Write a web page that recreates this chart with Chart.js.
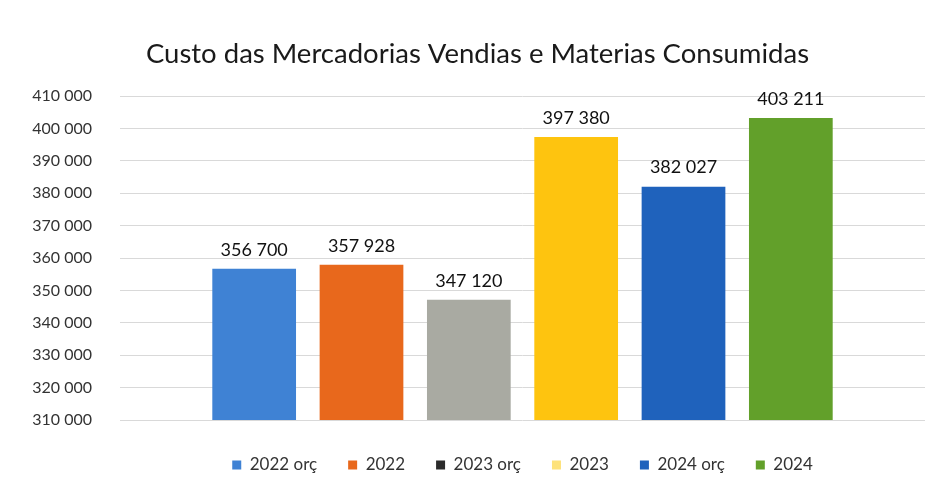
<!DOCTYPE html>
<html>
<head>
<meta charset="utf-8">
<script src="https://cdn.jsdelivr.net/npm/chart.js@4.4.1/dist/chart.umd.min.js"></script>
<style>
    html, body { margin: 0; padding: 0; background: #fff; }
    #wrap { width: 936px; height: 488px; }
</style>
</head>
<body>
<div id="wrap"><canvas id="custoChart"></canvas></div>
<script>
// Custo das mercadorias vendidas e materias consumidas
const series = ['2022 orç', '2022', '2023 orç', '2023', '2024 orç', '2024'];
const valores = [356700, 357928, 347120, 397380, 382027, 403211];
const cores = ['#3f82d4', '#e8681c', '#a9aaa2', '#fec40f', '#1f62bc', '#62a02a'];
const coresLegenda = ['#3f82d4', '#e8681c', '#2b2b2b', '#fde27a', '#1f62bc', '#62a02a'];
const eixoMin = 310000;
const eixoMax = 410000;
const eixoPasso = 10000;

const fonte = 'Lato, "Open Sans", sans-serif';

function formatarNumero(v) {
    return Math.round(v).toString().replace(/\B(?=(\d{3})+(?!\d))/g, ' ');
}

// rotulos de valor por cima das barras
const rotulosBarras = {
    id: 'rotulosBarras',
    afterDatasetsDraw(chart) {
        const ctx = chart.ctx;
        ctx.save();
        ctx.font = '18px ' + fonte;
        ctx.fillStyle = '#111';
        ctx.textAlign = 'center';
        ctx.textBaseline = 'middle';
        chart.data.datasets.forEach((ds, i) => {
            const meta = chart.getDatasetMeta(i);
            if (meta.hidden) return;
            const bar = meta.data[0];
            ctx.fillText(formatarNumero(ds.data[0]), bar.x, bar.y - 19);
        });
        ctx.restore();
    }
};

const ctx = document.getElementById('custoChart').getContext('2d');
new Chart(ctx, {
    type: 'bar',
    data: {
        labels: [''],
        datasets: series.map((nome, i) => ({
            label: nome,
            data: [valores[i]],
            backgroundColor: cores[i],
            borderWidth: 0
        }))
    },
    options: {
        responsive: true,
        maintainAspectRatio: false,
        animation: false,
        categoryPercentage: 0.8,
        barPercentage: 0.78,
        layout: {
            padding: { top: 38, right: 11, bottom: 4.5, left: 30 }
        },
        plugins: {
            title: {
                display: true,
                text: 'Custo das Mercadorias Vendias e Materias Consumidas',
                color: '#1a1a1a',
                font: { family: fonte, size: 27.5, weight: 'normal' },
                padding: { top: 0, bottom: 25 }
            },
            legend: {
                position: 'bottom',
                fullSize: false,
                labels: {
                    color: '#333',
                    font: { family: fonte, size: 17 },
                    boxWidth: 9,
                    boxHeight: 9,
                    padding: 31,
                    generateLabels(chart) {
                        return chart.data.datasets.map((ds, i) => ({
                            text: ds.label,
                            fillStyle: coresLegenda[i],
                            strokeStyle: coresLegenda[i],
                            lineWidth: 0,
                            hidden: !chart.isDatasetVisible(i),
                            datasetIndex: i,
                            fontColor: '#333'
                        }));
                    }
                }
            },
            tooltip: { enabled: false }
        },
        scales: {
            x: {
                display: true,
                border: { display: false },
                grid: { display: false },
                ticks: { display: false },
                afterFit(scale) {
                    scale.height = 5.5;
                }
            },
            y: {
                min: eixoMin,
                max: eixoMax,
                border: { display: false },
                grid: { color: '#d9d9d9', lineWidth: 1, drawTicks: false },
                afterFit(scale) {
                    scale.width = 90;
                },
                ticks: {
                    stepSize: eixoPasso,
                    padding: 28,
                    color: '#333',
                    font: { family: fonte, size: 16 },
                    callback: function(value) {
                        return formatarNumero(value);
                    }
                }
            }
        }
    },
    plugins: [rotulosBarras]
});
</script>
</body>
</html>
